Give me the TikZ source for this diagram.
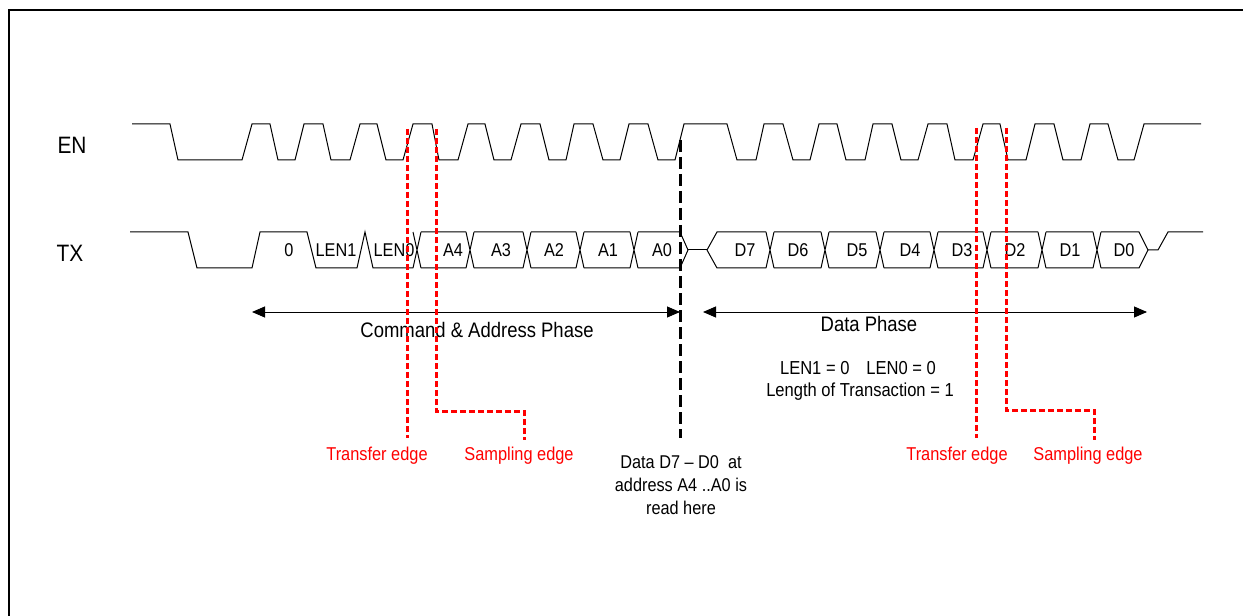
\documentclass[tikz,border=0pt]{standalone}
\usepackage{fontspec}
\setmainfont{Liberation Sans}[FakeStretch=0.88]
\usetikzlibrary{arrows.meta}

\tikzset{
  wave/.style={line width=1bp, black},
  signame/.style={font=\fontsize{23.7bp}{28bp}\selectfont, inner sep=0pt},
  cell/.style={font=\fontsize{18.5bp}{22bp}\selectfont, inner sep=0pt},
  phase/.style={<->, >={Triangle[length=13bp,width=11bp]}, line width=0.9bp},
  phaselbl/.style={font=\fontsize{21bp}{25bp}\selectfont, inner sep=0pt},
  note/.style={font=\fontsize{18.8bp}{23bp}\selectfont, inner sep=0pt, align=center},
  redge/.style={red, line width=3bp, dash pattern=on 6bp off 3bp},
  edgelbl/.style={red, font=\fontsize{18.6bp}{22bp}\selectfont, inner sep=0pt},
  readline/.style={black, line width=3bp, dash pattern=on 12bp off 5bp}
}

\begin{document}
\begin{tikzpicture}[x=1bp,y=-1bp]
  \useasboundingbox (0,0) rectangle (1243,616);
  % frame
  \draw[line width=2.3bp] (9,616) -- (9,10) -- (1243,10);

  % signal names
  \node[signame] (en) at (72,145) {EN};
  \node[signame] (tx) at (70,253) {TX};

  % EN
  \draw[wave] (132,124) -- (170,124) -- (178,160) -- (242,160)
    -- (252,124) -- (270,124) -- (278,160) -- (295,160)
    -- (304,124) -- (323,124) -- (331,160) -- (350,160)
    -- (360,124) -- (377,124) -- (386,160) -- (403,160)
    -- (413,124) -- (432,124) -- (439,160) -- (458,160)
    -- (468,124) -- (485,124) -- (494,160) -- (511,160)
    -- (521,124) -- (540,124) -- (549,160) -- (566,160)
    -- (574,124) -- (593,124) -- (603,160) -- (620,160)
    -- (629,124) -- (648,124) -- (658,160) -- (675,160)
    -- (684,124) -- (727,124) -- (737,160) -- (756,160)
    -- (764,124) -- (783,124) -- (793,160) -- (810,160)
    -- (819,124) -- (837,124) -- (846,160) -- (865,160)
    -- (873,124) -- (892,124) -- (901,160) -- (918,160)
    -- (928,124) -- (947,124) -- (955,160) -- (973,160)
    -- (983,124) -- (1000,124) -- (1008,160) -- (1026,160)
    -- (1035,124) -- (1054,124) -- (1063,160) -- (1081,160)
    -- (1090,124) -- (1108,124) -- (1118,160) -- (1134,160)
    -- (1144,124) -- (1201,124);

  % TX
  \draw[wave] (130,232) -- (188,232) -- (197,268) -- (252,268) -- (260,232)
    -- (307,232) -- (316,268) -- (357,268) -- (365,232) -- (373,268) -- (413,268);
  \foreach \l in {413,466,523,576,630,766,821,876,930,983,1038,1093}
    \draw[wave] (\l,232) -- ++(8,36) (\l,268) -- ++(8,-36);
  \draw[wave] (421,232) -- (466,232) (474,232) -- (523,232) (531,232) -- (576,232)
    (584,232) -- (630,232) (638,232) -- (680,232) -- (688,250) -- (680,268)
    -- (638,268) (630,268) -- (584,268) (576,268) -- (531,268)
    (523,268) -- (474,268) (466,268) -- (421,268);
  \draw[wave] (688,250) -- (707,250);
  \draw[wave] (707,250) -- (717,232) -- (766,232) (774,232) -- (821,232)
    (829,232) -- (876,232) (884,232) -- (930,232) (938,232) -- (983,232)
    (991,232) -- (1038,232) (1046,232) -- (1093,232) (1101,232) -- (1139,232)
    -- (1148,250) -- (1139,268) -- (1101,268) (1093,268) -- (1046,268)
    (1038,268) -- (991,268) (983,268) -- (938,268) (930,268) -- (884,268)
    (876,268) -- (829,268) (821,268) -- (774,268) (766,268) -- (717,268) -- (707,250);
  \draw[wave] (1148,250) -- (1158,250) -- (1168,232) -- (1203,232);

  % bit labels
  \node[cell] (b0) at (289,250) {0};
  \node[cell] (len1) at (336,250) {LEN1};
  \node[cell] (len0) at (394,250) {LEN0};
  \node[cell] (a4) at (453,250) {A4};
  \node[cell] (a3) at (501,250) {A3};
  \node[cell] (a2) at (554,250) {A2};
  \node[cell] (a1) at (608,250) {A1};
  \node[cell] (a0) at (662,250) {A0};
  \node[cell] (d7) at (745,250) {D7};
  \node[cell] (d6) at (798,250) {D6};
  \node[cell] (d5) at (857,250) {D5};
  \node[cell] (d4) at (910,250) {D4};
  \node[cell] (d3) at (962,250) {D3};
  \node[cell] (d2) at (1015,250) {D2};
  \node[cell] (d1) at (1070,250) {D1};
  \node[cell] (d0) at (1124,250) {D0};

  % phases
  \coordinate (cmdL) at (252,312);
  \coordinate (cmdR) at (680,312);
  \coordinate (datL) at (703,312);
  \coordinate (datR) at (1147,312);
  \draw[phase] (cmdL) -- (cmdR);
  \draw[phase] (datL) -- (datR);
  \node[phaselbl] (cmdphase) at (477,330) {Command \& Address Phase};
  \node[phaselbl] (datphase) at (869,324) {Data Phase};
  \node[note] (lenbits) at (858,368) {LEN1 = 0\hspace{17bp}LEN0 = 0};
  \node[note] (lentrans) at (860,392) {Length of Transaction = 1};

  % read point
  \coordinate (rdtop) at (680,140);
  \coordinate (rdbot) at (680,438);
  \draw[readline] (rdtop) -- (rdbot);
  \node[note, font=\fontsize{18.5bp}{23bp}\selectfont] (readnote) at (681,485)
    {Data D7 -- D0~~at\\address A4 ..A0 is\\read here};

  % transfer / sampling edges
  \coordinate (tLtop) at (407,129);
  \coordinate (tLbot) at (407,438);
  \coordinate (sLtop) at (436,129);
  \coordinate (sLknee) at (524,411);
  \coordinate (sLbot) at (524,440);
  \coordinate (tRtop) at (976,128);
  \coordinate (tRbot) at (976,438);
  \coordinate (sRtop) at (1006,128);
  \coordinate (sRknee) at (1094,410);
  \coordinate (sRbot) at (1094,440);
  \draw[redge] (tLtop) -- (tLbot);
  \draw[redge] (sLtop) |- (sLknee) -- (sLbot);
  \draw[redge] (tRtop) -- (tRbot);
  \draw[redge] (sRtop) |- (sRknee) -- (sRbot);
  \node[edgelbl] (xferL) at (377,456) {Transfer edge};
  \node[edgelbl] (sampL) at (519,456) {Sampling edge};
  \node[edgelbl] (xferR) at (957,456) {Transfer edge};
  \node[edgelbl] (sampR) at (1088,456) {Sampling edge};
\end{tikzpicture}
\end{document}
